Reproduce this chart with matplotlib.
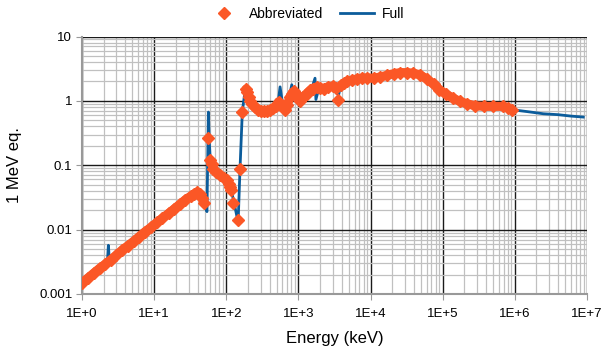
import numpy as np
import matplotlib.pyplot as plt
from matplotlib.ticker import LogLocator, FixedLocator, FixedFormatter, NullFormatter

plt.rcParams['font.family'] = ['Liberation Sans', 'DejaVu Sans']

# full curve (blue line), energy in keV
full_e = [1, 1.5, 2.0, 2.25, 2.32, 2.4, 3, 5, 7, 10,
          15, 20, 30, 39, 45, 50, 54, 56.5, 58, 60,
          66, 82, 100, 113, 125, 146, 155, 167, 180, 190,
          205, 220, 250, 290, 330, 380, 450, 520, 557, 600,
          650, 720, 810, 860, 1000, 1100, 1300, 1500, 1700, 1750,
          1900, 2300, 2600, 2900, 3300, 3590, 3800, 4700, 6000, 7500,
          9000, 1.1e4, 1.36e4, 1.7e4, 2.1e4, 2.6e4, 3.2e4, 3.9e4, 4.8e4, 6.0e4,
          7.5e4, 9e4, 1.1e5, 1.4e5, 1.74e5, 2.2e5, 2.83e5, 3.7e5, 5e5, 6.9e5,
          8e5, 9.1e5, 1.5e6, 2.5e6, 4e6, 6e6, 8.9e6]
full_v = [0.0015, 0.0022, 0.0028, 0.0031, 0.0057, 0.0032, 0.0040, 0.0066, 0.0086, 0.0115,
          0.0165, 0.021, 0.030, 0.038, 0.034, 0.025, 0.019, 0.67, 0.25, 0.12,
          0.088, 0.071, 0.059, 0.047, 0.03, 0.013, 0.087, 0.68, 1.3, 1.45,
          1.15, 1.0, 0.79, 0.70, 0.69, 0.70, 0.77, 0.88, 1.65, 0.95,
          0.72, 0.95, 1.78, 1.25, 1.05, 1.0, 1.25, 1.45, 2.25, 1.05,
          1.5, 1.6, 1.7, 1.55, 1.5, 1.2, 1.6, 2.0, 2.15, 2.25,
          2.28, 2.25, 2.35, 2.5, 2.65, 2.75, 2.75, 2.7, 2.55, 2.2,
          1.8, 1.5, 1.28, 1.1, 0.98, 0.9, 0.84, 0.82, 0.82, 0.82,
          0.78, 0.73, 0.68, 0.63, 0.61, 0.58, 0.56]

# abbreviated points (orange diamonds), nan = gap between runs
nan = np.nan
abbr_e = [1, 1.2, 1.45, 1.75, 2.1, 2.5, 3, 3.6, 4.3, 5.2, 6.2, 7.5, 9, 11, 13, 16, 19, 23, 27, 32, 36, 39.4, 43, 46, 49.7,
          nan, 56.5, nan,
          59.6, 63, 66, 72, 82, 92, 101, 108, 113, 117,
          nan, 125.6, nan, 146, nan, 155, nan, 167, nan,
          188, 195, 205, 215, 230, 250, 275, 300, 330, 370, 410, 450, 490, 530, 580, 650, 700, 760, 810, 860,
          920, 980, 1057, 1150, 1300, 1450, 1600, 1800, 2000, 2300, 2600, 3000, 3300,
          nan, 3590, nan,
          3900, 4300, 4700, 5500, 6500, 7500, 9000, 1.1e4, 1.36e4, 1.7e4, 2.1e4, 2.6e4, 3.2e4, 3.9e4, 4.8e4,
          6.0e4, 7.5e4, 9e4, 1.1e5, 1.4e5, 1.74e5, 2.2e5, 2.83e5, 3.7e5, 5e5, 6.9e5, 8e5, 9.1e5]
abbr_v = [0.0015, 0.00176, 0.0021, 0.0025, 0.0029, 0.0034, 0.0040, 0.0048, 0.0056, 0.0066, 0.0078, 0.0093, 0.0108,
          0.013, 0.015, 0.018, 0.021, 0.025, 0.029, 0.033, 0.036, 0.038, 0.036, 0.031, 0.026,
          nan, 0.264, nan,
          0.12, 0.105, 0.088, 0.079, 0.071, 0.064, 0.058, 0.051, 0.046, 0.041,
          nan, 0.026, nan, 0.014, nan, 0.087, nan, 0.68, nan,
          1.52, 1.35, 1.15, 1.0, 0.88, 0.79, 0.73, 0.70, 0.69, 0.70, 0.73, 0.77, 0.84, 0.97, 0.85, 0.73, 0.85, 1.15, 1.3, 1.4,
          1.3, 1.15, 0.98, 1.15, 1.3, 1.45, 1.55, 1.65, 1.6, 1.55, 1.67, 1.7, 1.6,
          nan, 1.04, nan,
          1.75, 1.9, 2.0, 2.1, 2.2, 2.25, 2.28, 2.25, 2.35, 2.5, 2.65, 2.75, 2.75, 2.7, 2.55,
          2.2, 1.8, 1.5, 1.28, 1.1, 0.98, 0.9, 0.84, 0.82, 0.82, 0.82, 0.78, 0.73]

x_ticks = [1, 1e1, 1e2, 1e3, 1e4, 1e5, 1e6, 1e7]
x_labels = ['1E+0', '1E+1', '1E+2', '1E+3', '1E+4', '1E+5', '1E+6', '1E+7']
y_ticks = [0.001, 0.01, 0.1, 1, 10]
y_labels = ['0.001', '0.01', '0.1', '1', '10']

blue = '#0b5c9b'
orange = '#fb5726'

fig = plt.figure(figsize=(6.12, 3.58), dpi=100)
ax = fig.add_axes([0.134, 0.179, 0.825, 0.719])
ax.set_xscale('log')
ax.set_yscale('log')
ax.set_xlim(1, 1e7)
ax.set_ylim(0.001, 10)

full_line, = ax.plot(full_e, full_v, color=blue, lw=2.0, zorder=3)
ax.plot(abbr_e, abbr_v, color=orange, lw=6.5, solid_capstyle='round', zorder=4)
abbr_pts, = ax.plot(abbr_e, abbr_v, ls='none', marker='D', ms=6.5, color=orange, zorder=5)

ax.xaxis.set_major_locator(FixedLocator(x_ticks))
ax.xaxis.set_major_formatter(FixedFormatter(x_labels))
ax.yaxis.set_major_locator(FixedLocator(y_ticks))
ax.yaxis.set_major_formatter(FixedFormatter(y_labels))
ax.xaxis.set_minor_locator(LogLocator(base=10, subs=np.arange(2, 10), numticks=20))
ax.yaxis.set_minor_locator(LogLocator(base=10, subs=np.arange(2, 10), numticks=20))
ax.xaxis.set_minor_formatter(NullFormatter())
ax.yaxis.set_minor_formatter(NullFormatter())

ax.grid(which='minor', color='#c0c0c0', lw=0.9)
ax.grid(which='major', color='#1a1a1a', lw=1.0)
ax.set_axisbelow(True)

for s in ['top', 'right']:
    ax.spines[s].set_visible(False)
for s in ['left', 'bottom']:
    ax.spines[s].set_color('#999999')
    ax.spines[s].set_linewidth(1.5)

ax.tick_params(which='major', length=4, color='#999999', labelsize=9.5, pad=3)
ax.tick_params(which='minor', length=0)
ax.tick_params(axis='x', pad=6)

ax.set_xlabel('Energy (keV)', fontsize=12, labelpad=8)
ax.set_ylabel('1 MeV eq.', fontsize=12, labelpad=12)

fig.legend([abbr_pts, full_line], ['Abbreviated', 'Full'], loc='center',
           bbox_to_anchor=(0.5, 0.962), ncol=2, frameon=False, fontsize=10,
           handlelength=2.4, columnspacing=1.2, handletextpad=0.6)

fig.savefig('out.png', dpi=100)
